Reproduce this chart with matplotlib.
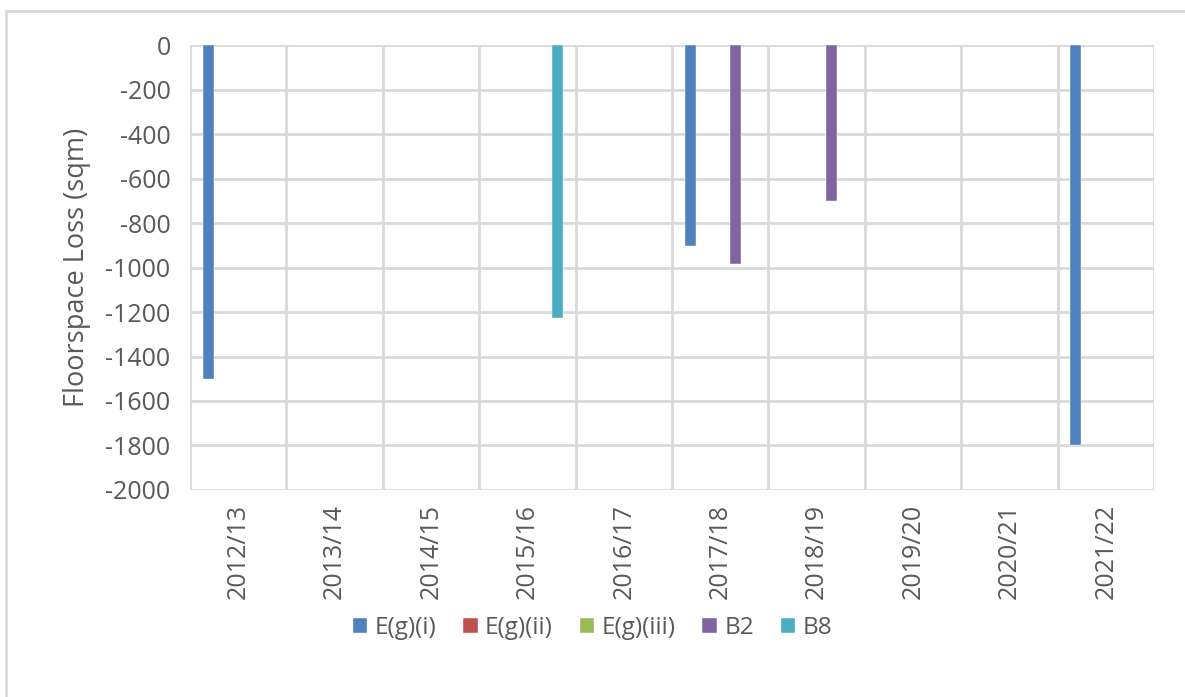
import numpy as np
import matplotlib.pyplot as plt
from matplotlib.patches import Rectangle

# floorspace loss per year, by use class (sqm)
years = ['2012/13', '2013/14', '2014/15', '2015/16', '2016/17',
         '2017/18', '2018/19', '2019/20', '2020/21', '2021/22']
series_names = ['E(g)(i)', 'E(g)(ii)', 'E(g)(iii)', 'B2', 'B8']
eg_i = [-1500, 0, 0, 0, 0, -905, 0, 0, 0, -1800]
eg_ii = [0, 0, 0, 0, 0, 0, 0, 0, 0, 0]
eg_iii = [0, 0, 0, 0, 0, 0, 0, 0, 0, 0]
b2 = [0, 0, 0, 0, 0, -985, -700, 0, 0, 0]
b8 = [0, 0, 0, -1225, 0, 0, 0, 0, 0, 0]
colors = ['#4F81BD', '#C0504D', '#9BBB59', '#8064A2', '#4BACC6']

plt.rcParams['font.family'] = ['Open Sans', 'DejaVu Sans']
plt.rcParams['axes.unicode_minus'] = False
text_col = '#595959'
grid_col = '#D9D9D9'

fig = plt.figure(figsize=(11.85, 6.97), dpi=100)
ax = fig.add_axes([0.1603, 0.2970, 0.8135, 0.6384])

# outer chart border (only left and top edges fall inside the image)
fig.patches.append(Rectangle((6 / 1185, -0.1), 2, 1.1 - 11 / 697,
                             transform=fig.transFigure, fill=False,
                             edgecolor=grid_col, linewidth=2))

x = np.arange(len(years))
slot = 0.156
bar_w = 0.114
all_series = [eg_i, eg_ii, eg_iii, b2, b8]
for i, (vals, name, c) in enumerate(zip(all_series, series_names, colors)):
    ax.bar(x + (i - 2) * slot, vals, width=bar_w, color=c, label=name,
           edgecolor='white', linewidth=0.3, zorder=3)

ax.set_xlim(-0.5, len(years) - 0.5)
ax.set_ylim(-2000, 0)
ax.set_yticks(np.arange(-2000, 1, 200))
ax.set_xticks(x)
ax.set_xticklabels(years, rotation=90)

# gridlines: horizontal at ticks, vertical at category boundaries
for yv in np.arange(-2000, 1, 200):
    ax.axhline(yv, color=grid_col, linewidth=2, zorder=1)
for xv in np.arange(-0.5, len(years), 1):
    ax.axvline(xv, color=grid_col, linewidth=2, zorder=1)

for s in ax.spines.values():
    s.set_visible(False)
ax.tick_params(length=0, labelsize=18, colors=text_col, pad=10)
ax.tick_params(axis='y', pad=14)
ax.set_ylabel('Floorspace Loss (sqm)', fontsize=19.5, color=text_col, labelpad=10)

leg = fig.legend(loc='center', bbox_to_anchor=(0.5, 1 - 628 / 697), ncol=5,
                 frameon=False, fontsize=17.5, handlelength=0.6, handleheight=0.6,
                 handletextpad=0.3, columnspacing=1.1)
for t in leg.get_texts():
    t.set_color(text_col)

fig.savefig('out.png', dpi=100)
